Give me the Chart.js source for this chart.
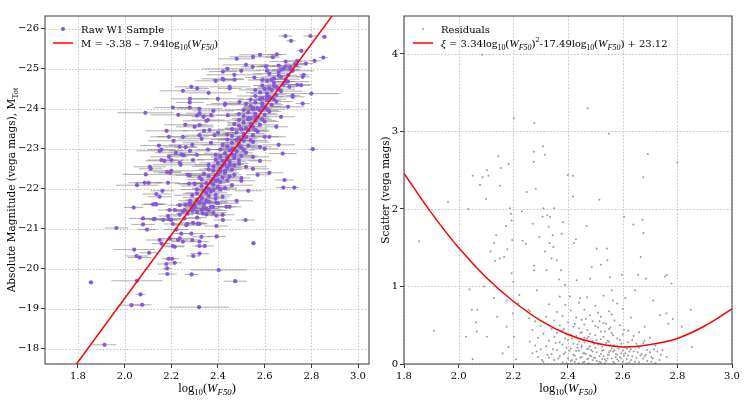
<!DOCTYPE html>
<html><head><meta charset="utf-8">
<script src="https://cdn.jsdelivr.net/npm/chart.js@4.4.1/dist/chart.umd.min.js"></script>
<style>
html,body{margin:0;padding:0;background:#fff;width:747px;height:401px;overflow:hidden}
.box{position:absolute;top:0;height:401px}
#bl{left:0;width:373px}
#br{left:373px;width:374px}
</style>
</head><body>
<div class="box" id="bl"><canvas id="cl"></canvas></div>
<div class="box" id="br"><canvas id="cr"></canvas></div>
<script>
// ---------- left panel: raw W1 sample ----------
const logW = [
1.856,1.914,2.053,2.068,2.029,2.075,2.319,2.474,2.403,2.287,
2.183,2.182,2.179,2.215,2.188,2.203,2.065,2.051,2.105,2.041,
2.294,2.321,2.552,1.965,2.079,2.096,2.518,2.394,2.039,2.122,
2.136,2.207,2.269,2.293,2.321,2.222,2.243,2.286,2.193,2.229,
2.250,2.290,2.321,2.207,2.158,2.321,2.165,2.200,2.257,2.311,
2.335,2.393,2.420,2.079,2.129,2.186,2.236,2.257,2.293,2.350,
2.379,2.436,2.393,2.321,2.262,2.147,2.158,2.236,2.262,2.253,
2.357,2.108,2.112,2.158,2.200,2.236,2.293,2.091,2.182,2.196,
2.279,2.321,2.053,2.086,2.103,2.186,2.276,2.300,2.162,2.136,
2.150,2.133,2.193,2.215,2.236,2.279,2.300,2.125,2.190,2.264,
2.314,2.421,2.393,2.343,2.329,2.150,2.236,2.215,2.689,2.796,
2.856,2.713,2.757,2.652,2.635,2.739,2.814,2.851,2.549,2.606,
2.286,2.311,2.089,2.207,2.279,2.279,2.424,2.471,2.421,2.556,
2.763,2.806,2.677,2.685,2.680,2.727,2.243,2.310,2.321,2.338,
2.371,2.442,2.720,2.756,2.800,2.763,2.767,2.777,2.736,2.720,
2.692,2.706,2.450,2.431,2.492,2.357,2.364,2.385,2.321,2.190,
2.321,
2.27,2.31,2.35,2.29,2.38,2.33,2.25,
2.30,2.34,2.37,2.32,2.28,2.40,2.35,2.31,
2.33,2.36,2.39,2.31,2.35,2.42,2.37,2.29,2.34,
2.36,2.40,2.33,2.38,2.43,2.35,2.41,2.30,2.39,2.46,
2.38,2.42,2.36,2.45,2.40,2.43,2.34,2.47,2.41,2.38,2.50,
2.41,2.44,2.38,2.47,2.43,2.40,2.49,2.45,2.36,2.52,2.42,
2.44,2.47,2.41,2.50,2.46,2.43,2.52,2.48,2.39,2.45,2.55,
2.47,2.50,2.44,2.53,2.49,2.46,2.55,2.51,2.42,2.48,2.58,
2.49,2.52,2.46,2.55,2.51,2.48,2.57,2.53,2.44,2.50,2.60,
2.52,2.55,2.49,2.58,2.54,2.51,2.60,2.56,2.47,2.53,
2.54,2.57,2.51,2.60,2.56,2.53,2.62,2.58,2.49,2.55,
2.57,2.60,2.54,2.63,2.59,2.56,2.65,2.61,2.52,
2.59,2.62,2.56,2.65,2.61,2.58,2.67,2.63,
2.62,2.65,2.59,2.68,2.64,2.70,2.61,
2.64,2.67,2.70,2.62,2.66,2.72,
2.68,2.71,2.66,2.73,2.69,
2.20,2.22,2.25,2.30,2.33,2.28,2.24,2.19,2.35,2.38,
2.40,2.43,2.36,2.45,2.47,2.50,2.52,2.42,2.31,2.27,
2.29,2.34,2.37,2.40,2.32,2.26,2.21,2.17,2.15,2.18,
2.23,2.28,2.25,2.39,2.44,2.48,2.55,2.58,
2.50,2.55,2.58,2.60,2.62,2.65,2.67,2.70,2.72,2.53,
2.48,2.45,2.62,2.66,2.57,2.74,
2.34,2.30,2.36,2.33,2.38,2.35,2.40,2.37,2.43,2.39,2.45,2.42,2.47,2.44,2.49,2.46,
2.51,2.48,2.54,2.50,2.56,2.53,2.59,2.55,2.61,2.58,2.64,2.60,2.66,2.63,2.69,2.67,
2.36,2.39,2.41,2.44,2.46,2.49,2.51,2.54,2.56,2.59,2.61,2.64,2.66,2.69,2.71,
2.28,2.31,2.33,2.36,2.39,2.41,2.44,2.46,2.49,2.51,2.54,2.56,2.59,2.61
];
const absMag = [
-19.66,-18.10,-19.70,-19.36,-19.09,-19.10,-19.04,-19.69,-19.97,-19.86,
-19.87,-20.01,-20.12,-20.15,-20.25,-20.25,-20.28,-20.32,-20.40,-20.48,
-20.32,-20.38,-20.64,-21.02,-21.11,-20.98,-21.22,-20.81,-21.53,-21.61,
-21.61,-21.12,-21.12,-21.15,-21.12,-20.98,-20.88,-20.88,-20.76,-20.72,
-20.68,-20.72,-20.68,-20.57,-20.63,-20.57,-21.22,-21.22,-21.26,-21.28,
-21.38,-21.33,-21.35,-21.26,-21.25,-21.32,-21.35,-21.47,-21.50,-21.50,
-21.55,-21.55,-21.65,-21.65,-21.60,-23.08,-22.98,-23.05,-23.04,-22.84,
-22.98,-22.55,-22.50,-22.72,-22.72,-22.65,-22.72,-22.36,-22.42,-22.40,
-22.34,-22.28,-22.09,-22.15,-22.15,-22.15,-22.13,-22.13,-21.95,-21.87,
-21.80,-21.62,-21.47,-21.47,-21.59,-21.63,-21.55,-21.24,-21.24,-21.09,
-21.13,-21.22,-21.07,-20.57,-20.80,-20.72,-20.76,-20.55,-25.82,-25.82,
-25.80,-25.70,-25.45,-25.36,-25.29,-25.20,-25.20,-25.28,-25.05,-25.06,
-24.55,-24.51,-23.90,-24.03,-24.16,-24.03,-24.73,-24.73,-24.93,-24.78,
-24.13,-22.99,-22.88,-22.22,-22.03,-22.03,-22.86,-23.83,-23.59,-23.80,
-23.84,-23.84,-24.33,-24.59,-24.38,-24.80,-24.85,-25.13,-25.10,-24.97,
-24.68,-24.55,-24.51,-24.13,-24.17,-23.72,-23.47,-23.34,-23.34,-23.30,
-23.89,
-21.38,-21.42,-21.36,-21.45,-21.40,-21.47,-21.43,
-21.58,-21.62,-21.55,-21.66,-21.60,-21.64,-21.70,-21.72,
-21.78,-21.82,-21.85,-21.88,-21.90,-21.80,-21.93,-21.84,-21.95,
-22.00,-22.04,-22.07,-22.10,-22.02,-22.14,-22.17,-22.12,-22.20,-22.09,
-22.25,-22.28,-22.32,-22.30,-22.36,-22.40,-22.38,-22.35,-22.44,-22.46,-22.27,
-22.50,-22.53,-22.56,-22.58,-22.62,-22.65,-22.63,-22.68,-22.60,-22.55,-22.70,
-22.74,-22.77,-22.80,-22.82,-22.86,-22.89,-22.90,-22.93,-22.85,-22.96,-22.80,
-23.00,-23.03,-23.06,-23.08,-23.12,-23.15,-23.17,-23.20,-23.10,-23.23,-23.05,
-23.26,-23.29,-23.32,-23.34,-23.38,-23.41,-23.43,-23.46,-23.36,-23.48,-23.30,
-23.52,-23.55,-23.58,-23.60,-23.63,-23.66,-23.68,-23.71,-23.62,-23.73,
-23.76,-23.79,-23.82,-23.85,-23.88,-23.91,-23.93,-23.96,-23.87,-23.98,
-24.01,-24.04,-24.07,-24.10,-24.13,-24.16,-24.18,-24.21,-24.12,
-24.26,-24.29,-24.32,-24.35,-24.38,-24.41,-24.44,-24.47,
-24.52,-24.55,-24.58,-24.61,-24.65,-24.68,-24.70,
-24.76,-24.80,-24.84,-24.88,-24.92,-24.95,
-25.00,-25.04,-25.08,-25.12,-25.18,
-22.45,-22.90,-23.30,-23.55,-23.25,-22.95,-22.60,-22.80,-23.70,-23.95,
-24.25,-24.10,-24.40,-24.55,-24.85,-24.95,-25.10,-24.75,-22.85,-22.35,
-23.10,-23.45,-23.15,-23.40,-24.00,-23.60,-23.20,-22.70,-22.95,-23.45,
-23.85,-24.25,-24.45,-24.70,-25.00,-25.25,-25.30,-25.35,
-22.20,-22.50,-22.70,-23.00,-23.30,-23.55,-23.80,-24.05,-24.30,-21.95,
-21.70,-21.55,-22.40,-23.10,-22.35,-24.60,
-21.51,-21.53,-21.68,-21.75,-21.97,-22.02,-22.22,-22.16,-22.45,-22.33,-22.61,-22.58,-22.84,-22.79,-23.07,-22.99,
-23.31,-23.22,-23.56,-23.50,-23.81,-23.77,-24.06,-24.02,-24.31,-24.24,-24.57,-24.50,-24.83,-24.73,-25.06,-24.98,
-21.46,-21.75,-21.99,-22.22,-22.48,-22.72,-22.97,-23.21,-23.47,-23.74,-23.99,-24.24,-24.49,-24.74,-24.99,
-21.70,-21.98,-22.23,-22.49,-22.73,-22.98,-23.23,-23.49,-23.72,-23.97,-24.23,-24.47,-24.72,-24.96
];
const logWErr = [
.01,.05,.11,.02,.06,.04,.13,.05,.12,.03,
.04,.02,.04,.03,.03,.03,.05,.05,.04,.09,
.03,.04,.01,.05,.05,.04,.04,.04,.04,.05,
.03,.04,.06,.05,.03,.05,.04,.06,.05,.04,
.05,.03,.04,.05,.04,.03,.06,.05,.07,.04,
.05,.04,.05,.06,.05,.04,.06,.05,.04,.06,
.05,.04,.05,.05,.04,.08,.06,.07,.05,.06,
.05,.07,.05,.06,.05,.07,.05,.10,.06,.05,
.06,.05,.09,.07,.06,.05,.06,.05,.05,.06,
.05,.05,.05,.04,.05,.05,.05,.06,.05,.05,
.04,.04,.05,.04,.04,.06,.05,.04,.03,.03,
.01,.02,.02,.04,.03,.04,.03,.02,.05,.04,
.07,.05,.12,.08,.06,.05,.05,.04,.06,.04,
.03,.02,.06,.04,.03,.02,.06,.07,.06,.05,
.06,.05,.03,.04,.12,.03,.02,.03,.04,.03,
.04,.03,.05,.06,.05,.07,.06,.05,.06,.08,
.06,
.05,.08,.04,.07,.06,.09,.03,
.05,.08,.04,.07,.06,.09,.03,.05,
.08,.04,.07,.06,.09,.03,.05,.08,.04,
.07,.06,.09,.03,.05,.08,.04,.07,.06,.09,
.03,.05,.08,.04,.07,.06,.09,.03,.05,.08,.04,
.07,.06,.09,.03,.05,.08,.04,.07,.06,.09,.03,
.05,.08,.04,.07,.06,.09,.03,.05,.08,.04,.07,
.06,.09,.03,.05,.08,.04,.07,.06,.09,.03,.05,
.08,.04,.07,.06,.09,.03,.05,.08,.04,.07,.06,
.09,.03,.05,.08,.04,.07,.06,.09,.03,.05,
.08,.04,.07,.06,.09,.03,.05,.08,.04,.07,
.06,.09,.03,.05,.08,.04,.07,.06,.09,
.03,.05,.08,.04,.07,.06,.09,.03,
.05,.08,.04,.07,.06,.09,.03,
.05,.08,.04,.07,.06,.09,
.03,.05,.08,.04,.07,
.10,.09,.11,.08,.10,.09,.12,.08,.10,.09,
.11,.08,.10,.09,.12,.08,.10,.09,.11,.08,
.10,.09,.12,.08,.10,.09,.11,.08,.10,.09,
.12,.08,.10,.09,.11,.08,.10,.09,
.06,.07,.05,.06,.07,.05,.06,.07,.05,.06,
.07,.05,.06,.07,.05,.06,
.06,.04,.08,.05,.07,.06,.04,.08,.05,.07,.06,.04,.08,.05,.07,.06,
.04,.08,.05,.07,.06,.04,.08,.05,.07,.06,.04,.08,.05,.07,.06,.04,
.08,.05,.07,.06,.04,.08,.05,.07,.06,.04,.08,.05,.07,.06,.04,
.05,.07,.06,.04,.08,.05,.07,.06,.04,.08,.05,.07,.06,.04
];
// linear fit M = -3.38 - 7.94 log10(W_F50), end points
const fitLineX = [1.78, 2.92];
const fitLineM = [-17.51, -26.57];

// ---------- right panel: residuals ----------
const resLogW = [
2.085,2.472,2.202,2.277,2.550,2.308,2.275,2.316,2.145,2.692,
2.800,2.275,2.183,2.154,2.103,2.051,2.088,2.109,2.400,2.418,
2.676,2.078,2.151,2.249,2.282,2.100,2.418,2.515,1.855,1.910,
1.961,2.035,2.039,2.027,2.051,2.048,2.068,2.063,2.066,2.093,
2.103,2.117,2.129,2.133,2.137,2.129,2.141,2.151,2.161,2.166,
2.173,2.178,2.176,2.176,2.182,2.188,2.191,2.194,2.196,2.194,
2.200,2.198,2.202,2.210,2.218,2.222,2.231,2.234,2.246,2.255,
2.258,2.271,2.276,2.276,2.286,2.295,2.307,2.310,2.316,2.322,
2.324,2.329,2.334,2.340,2.332,2.346,2.349,2.344,2.359,2.381,
2.377,2.375,2.368,2.389,2.407,2.422,2.429,2.432,2.444,2.468,
2.481,2.487,2.505,2.520,2.542,2.544,2.554,2.560,2.564,2.605,
2.597,2.639,2.645,2.657,2.666,2.673,2.676,2.685,2.712,2.737,
2.755,2.761,2.779,2.761,2.767,2.783,2.816,2.849,2.853,2.727,
2.761,
2.31,2.35,2.38,2.41,2.44,2.46,2.49,2.52,2.54,2.57,2.60,2.63,2.66,2.69,2.72,2.43,2.51,2.58,
2.29,2.33,2.37,2.40,2.45,2.48,2.50,2.53,2.56,2.59,2.62,2.65,2.68,2.71,2.47,2.55,
2.27,2.34,2.39,2.42,2.46,2.49,2.52,2.55,2.58,2.61,2.64,2.67,2.70,2.74,2.44,2.57,
2.30,2.36,2.41,2.43,2.47,2.50,2.53,2.56,2.60,2.63,2.66,2.69,2.45,2.58,
2.28,2.32,2.38,2.42,2.45,2.48,2.51,2.54,2.57,2.61,2.65,2.72,2.46,
2.26,2.33,2.37,2.40,2.44,2.49,2.52,2.55,2.59,2.62,2.68,2.47,
2.29,2.35,2.39,2.43,2.46,2.50,2.53,2.58,2.64,2.70,
2.31,2.36,2.41,2.45,2.48,2.52,2.56,2.60,2.66,
2.27,2.34,2.38,2.44,2.47,2.51,2.55,2.62,
2.30,2.37,2.42,2.46,2.50,2.54,2.59,2.68,
2.28,2.35,2.40,2.45,2.49,2.53,2.57,
2.32,2.38,2.43,2.48,2.52,2.56,2.63,
2.26,2.36,2.41,2.46,2.51,2.55,2.60,
2.33,2.39,2.44,2.50,2.58,
2.37,2.47,2.53,2.61,
2.415,2.455,2.475,2.505,2.535,2.565,2.595,2.625,2.425,2.465,2.515,
2.545,2.575,2.605,2.435,2.485,2.525,2.565,2.615,2.495,2.545,2.455,
2.395,2.425,2.445,2.475,2.485,2.505,2.515,2.535,2.545,2.555,
2.585,2.595,2.615,2.635,2.645,2.655,2.675,2.685,2.705,2.715,
2.385,2.405,2.435,2.455,2.475,2.495,2.525,2.555,2.585,2.625,
2.655,2.365,2.345,2.355,2.325,2.305,2.285,2.415,2.445,2.475,
2.505,2.535,2.565,2.595,2.635,2.675,2.705,2.735,2.745,2.385,
2.425,2.465,2.515,2.555,2.605,2.395,2.525,2.575,2.615,2.665
];
const resScatter = [
3.99,3.30,3.17,3.11,2.97,2.81,2.74,2.70,2.68,2.71,
2.60,2.61,2.58,2.53,2.50,2.43,2.41,2.43,2.44,2.43,
2.41,2.31,2.30,2.22,2.26,2.13,2.16,2.12,1.585,0.43,
2.09,2.00,0.96,0.35,0.06,0.70,0.70,0.54,0.42,1.00,
0.35,1.45,1.56,1.33,1.66,0.85,0.61,1.36,0.14,1.38,
1.78,1.48,0.82,0.48,0.22,2.01,1.94,1.85,1.60,1.17,
1.06,0.65,0.35,0.06,0.78,0.89,1.97,1.59,1.55,0.70,
0.59,1.81,1.27,1.21,0.95,1.64,1.90,2.01,1.45,1.21,
1.92,1.77,1.90,1.36,1.56,1.51,2.01,1.66,1.34,1.83,
1.68,1.21,1.09,1.02,0.87,1.56,1.61,1.08,0.85,1.78,
1.10,1.25,1.49,1.28,1.49,1.34,1.12,0.95,0.82,1.90,
1.15,1.80,0.95,1.15,1.38,1.86,1.69,1.10,0.82,0.63,
1.13,1.15,1.04,0.65,0.52,0.58,0.48,0.70,0.22,0.16,
0.09,
.03,.05,.02,.04,.01,.03,.05,.02,.04,.01,.03,.05,.02,.04,.01,.06,.00,.06,
.09,.08,.10,.07,.09,.11,.08,.10,.07,.09,.11,.08,.10,.07,.06,.12,
.14,.13,.15,.12,.14,.16,.13,.15,.12,.14,.16,.13,.15,.12,.17,.18,
.19,.18,.20,.17,.19,.21,.18,.20,.17,.19,.21,.18,.22,.23,
.24,.23,.25,.26,.24,.23,.25,.27,.24,.22,.26,.24,.28,
.29,.30,.28,.31,.29,.30,.32,.29,.31,.28,.30,.33,
.34,.35,.33,.36,.34,.37,.35,.33,.36,.34,
.39,.40,.38,.41,.39,.42,.40,.38,.41,
.44,.45,.43,.46,.44,.47,.45,.43,
.49,.50,.48,.51,.49,.52,.50,.48,
.55,.56,.54,.57,.55,.53,.56,
.61,.62,.60,.63,.61,.64,.60,
.68,.67,.69,.70,.66,.68,.71,
.77,.76,.79,.75,.78,
.87,.86,.88,.85,
.05,.02,.07,.04,.06,.03,.07,.02,.11,.13,.10,
.12,.09,.11,.21,.18,.22,.16,.20,.26,.30,.31,
.01,.03,.08,.01,.10,.15,.03,.01,.07,.17,
.04,.14,.06,.10,.03,.15,.07,.12,.03,.19,
.13,.17,.25,.14,.20,.08,.17,.24,.20,.16,
.23,.07,.19,.27,.12,.05,.16,.33,.40,.35,
.31,.42,.37,.26,.31,.27,.09,.05,.18,.45,
.52,.58,.55,.47,.44,.21,.06,.13,.01,.11
];
// quadratic scatter fit
const fitCurveX  = [1.8,1.9,2.0,2.1,2.2,2.3,2.4,2.5,2.6,2.7,2.8,2.9,3.0];
const fitCurveXi = [2.46,1.95,1.50,1.12,0.81,0.56,0.38,0.27,0.22,0.25,0.33,0.49,0.71];

// tick labels
const leftXTicks  = [1.8,2.0,2.2,2.4,2.6,2.8,3.0];
const leftYTicks  = [-26,-25,-24,-23,-22,-21,-20,-19,-18];
const rightXTicks = [1.8,2.0,2.2,2.4,2.6,2.8,3.0];
const rightYTicks = [0,1,2,3,4];

// ---------- helpers ----------
const TEXT = '"DejaVu Serif", serif';
const MATH = '"Liberation Serif", "Times New Roman", serif';
const TICKFONT = {family:'DejaVu Serif', size:10};

function drawRich(ctx, segs, x, yBase, base, align){
  const parts = segs.map(s=>{
    let sz = base * (s.m ? 1.14 : 1);
    if (s.sub || s.sup) sz *= 0.7;
    const font = (s.it ? 'italic ' : '') + sz.toFixed(2) + 'px ' + (s.m ? MATH : TEXT);
    ctx.font = font;
    return {s, font, w: ctx.measureText(s.t).width};
  });
  const total = parts.reduce((a,p)=>a+p.w,0);
  let cx = align === 'center' ? x - total/2 : x;
  ctx.textAlign = 'left'; ctx.textBaseline = 'alphabetic';
  for (const p of parts){
    ctx.font = p.font;
    const dy = p.s.sub ? base*0.3 : (p.s.sup ? -base*0.42 : 0);
    ctx.fillText(p.s.t, cx, yBase + dy);
    cx += p.w;
  }
}
const LOGW = [{t:'log',m:1},{t:'10',m:1,sub:1},{t:'(',m:1},{t:'W',m:1,it:1},{t:'F50',m:1,it:1,sub:1},{t:')',m:1}];

function decor(o){
  return {
    id: 'decor_' + o.name,
    beforeDatasetsDraw(chart){
      const {ctx, chartArea:a, scales:{x, y}} = chart;
      ctx.save();
      ctx.strokeStyle = '#b8b8b8'; ctx.lineWidth = 0.8; ctx.setLineDash([1.6,1.8]);
      ctx.beginPath();
      x.ticks.forEach(t=>{ const p = Math.round(x.getPixelForValue(t.value))+0.5; ctx.moveTo(p,a.top); ctx.lineTo(p,a.bottom); });
      y.ticks.forEach(t=>{ const p = Math.round(y.getPixelForValue(t.value))+0.5; ctx.moveTo(a.left,p); ctx.lineTo(a.right,p); });
      ctx.stroke();
      ctx.setLineDash([]);
      if (o.err){
        ctx.beginPath(); ctx.rect(a.left,a.top,a.right-a.left,a.bottom-a.top); ctx.clip();
        ctx.strokeStyle = 'rgba(110,110,110,0.55)'; ctx.lineWidth = 1;
        ctx.beginPath();
        for (let i=0;i<o.xs.length;i++){
          const py = y.getPixelForValue(o.ys[i]);
          ctx.moveTo(x.getPixelForValue(o.xs[i]-o.err[i]), py);
          ctx.lineTo(x.getPixelForValue(o.xs[i]+o.err[i]), py);
        }
        ctx.stroke();
      }
      ctx.restore();
    },
    afterDatasetsDraw(chart){
      const {ctx, chartArea:a} = chart;
      ctx.save();
      ctx.strokeStyle = '#4a4a4a'; ctx.lineWidth = 1.1;
      ctx.strokeRect(a.left, a.top, a.right-a.left, a.bottom-a.top);
      ctx.fillStyle = '#000';
      // legend
      const lx = a.left + o.legDX;
      if (o.marker === 'dot'){
        ctx.fillStyle = o.markerColor; ctx.beginPath(); ctx.arc(lx+10, 29, o.markerR, 0, Math.PI*2); ctx.fill();
      }
      ctx.strokeStyle = '#ff0000'; ctx.lineWidth = 1.5;
      ctx.beginPath(); ctx.moveTo(lx, 43); ctx.lineTo(lx+20, 43); ctx.stroke();
      ctx.fillStyle = '#000';
      drawRich(ctx, o.leg1, lx+28, 32.5, 10, 'left');
      drawRich(ctx, o.leg2, lx+28, 46.5, 10, 'left');
      // x title
      drawRich(ctx, LOGW, (a.left+a.right)/2, 392, 11, 'center');
      // y title
      ctx.translate(o.ytX, (a.top+a.bottom)/2);
      ctx.rotate(-Math.PI/2);
      drawRich(ctx, o.ytitle, 0, 4, 10.5, 'center');
      ctx.restore();
    }
  };
}

function axis(opts){
  return Object.assign({
    type:'linear',
    border:{display:false},
    grid:{drawOnChartArea:false, drawTicks:true, tickLength:4, tickColor:'#333', tickWidth:1},
  }, opts);
}

// ---------- left chart ----------
new Chart(document.getElementById('cl'), {
  type:'scatter',
  data:{datasets:[
    {type:'line', data: fitLineX.map((x,i)=>({x, y: fitLineM[i]})), borderColor:'#ff0000', borderWidth:1.5, pointRadius:0, tension:0, order:0},
    {type:'scatter', data: logW.map((x,i)=>({x, y: absMag[i]})), backgroundColor:'#8a55e2', borderWidth:0, pointRadius:2.1, order:1}
  ]},
  options:{
    responsive:true, maintainAspectRatio:false, animation:false,
    layout:{padding:{left:0, right:3, top:16, bottom:0}},
    plugins:{legend:{display:false}, tooltip:{enabled:false}},
    scales:{
      x: axis({min:1.659, max:3.047,
        afterFit(s){ s.height = 37; },
        afterBuildTicks(s){ s.ticks = leftXTicks.map(v=>({value:v})); },
        ticks:{font:TICKFONT, color:'#000', padding:2, maxRotation:0, autoSkip:false, callback:v=>Number(v).toFixed(1)}}),
      y: axis({min:-26.32, max:-17.62, reverse:true,
        afterFit(s){ s.width = 45; },
        afterBuildTicks(s){ s.ticks = leftYTicks.map(v=>({value:v})); },
        ticks:{font:TICKFONT, color:'#000', padding:2, autoSkip:false, callback:v=>(v<0?'\u2212':'')+Math.abs(v)}})
    }
  },
  plugins:[decor({name:'l', err:logWErr, xs:logW, ys:absMag, legDX:8, marker:'dot', markerColor:'#8a55e2', markerR:2.1,
    leg1:[{t:'Raw W1 Sample'}],
    leg2:[{t:'M = -3.38 \u2013 7.94'}].concat(LOGW),
    ytX:11, ytitle:[{t:'Absolute Magnitude (vega mags), M'},{t:'Tot',m:1,sub:1}]})]
});

// ---------- right chart ----------
new Chart(document.getElementById('cr'), {
  type:'scatter',
  data:{datasets:[
    {type:'line', data: fitCurveX.map((x,i)=>({x, y: fitCurveXi[i]})), borderColor:'#ff0000', borderWidth:1.5, pointRadius:0, tension:0.4, order:0},
    {type:'scatter', data: resLogW.map((x,i)=>({x, y: resScatter[i]})), backgroundColor:'#9a9a9a', borderWidth:0, pointRadius:1, order:1}
  ]},
  options:{
    responsive:true, maintainAspectRatio:false, animation:false,
    layout:{padding:{left:0, right:15, top:16, bottom:0}},
    plugins:{legend:{display:false}, tooltip:{enabled:false}},
    scales:{
      x: axis({min:1.8, max:3.0,
        afterFit(s){ s.height = 37; },
        afterBuildTicks(s){ s.ticks = rightXTicks.map(v=>({value:v})); },
        ticks:{font:TICKFONT, color:'#000', padding:2, maxRotation:0, autoSkip:false, callback:v=>Number(v).toFixed(1)}}),
      y: axis({min:0, max:4.49,
        afterFit(s){ s.width = 31; },
        afterBuildTicks(s){ s.ticks = rightYTicks.map(v=>({value:v})); },
        ticks:{font:TICKFONT, color:'#000', padding:2, autoSkip:false, callback:v=>String(v)}})
    }
  },
  plugins:[decor({name:'r', legDX:9, marker:'dot', markerColor:'#9a9a9a', markerR:0.9,
    leg1:[{t:'Residuals'}],
    leg2:[{t:'\u03BE',m:1,it:1},{t:' = 3.34'}].concat(LOGW,[{t:'2',sup:1},{t:'-17.49'}],LOGW,[{t:' + 23.12'}]),
    ytX:12, ytitle:[{t:'Scatter (vega mags)'}]})]
});
</script>
</body></html>
